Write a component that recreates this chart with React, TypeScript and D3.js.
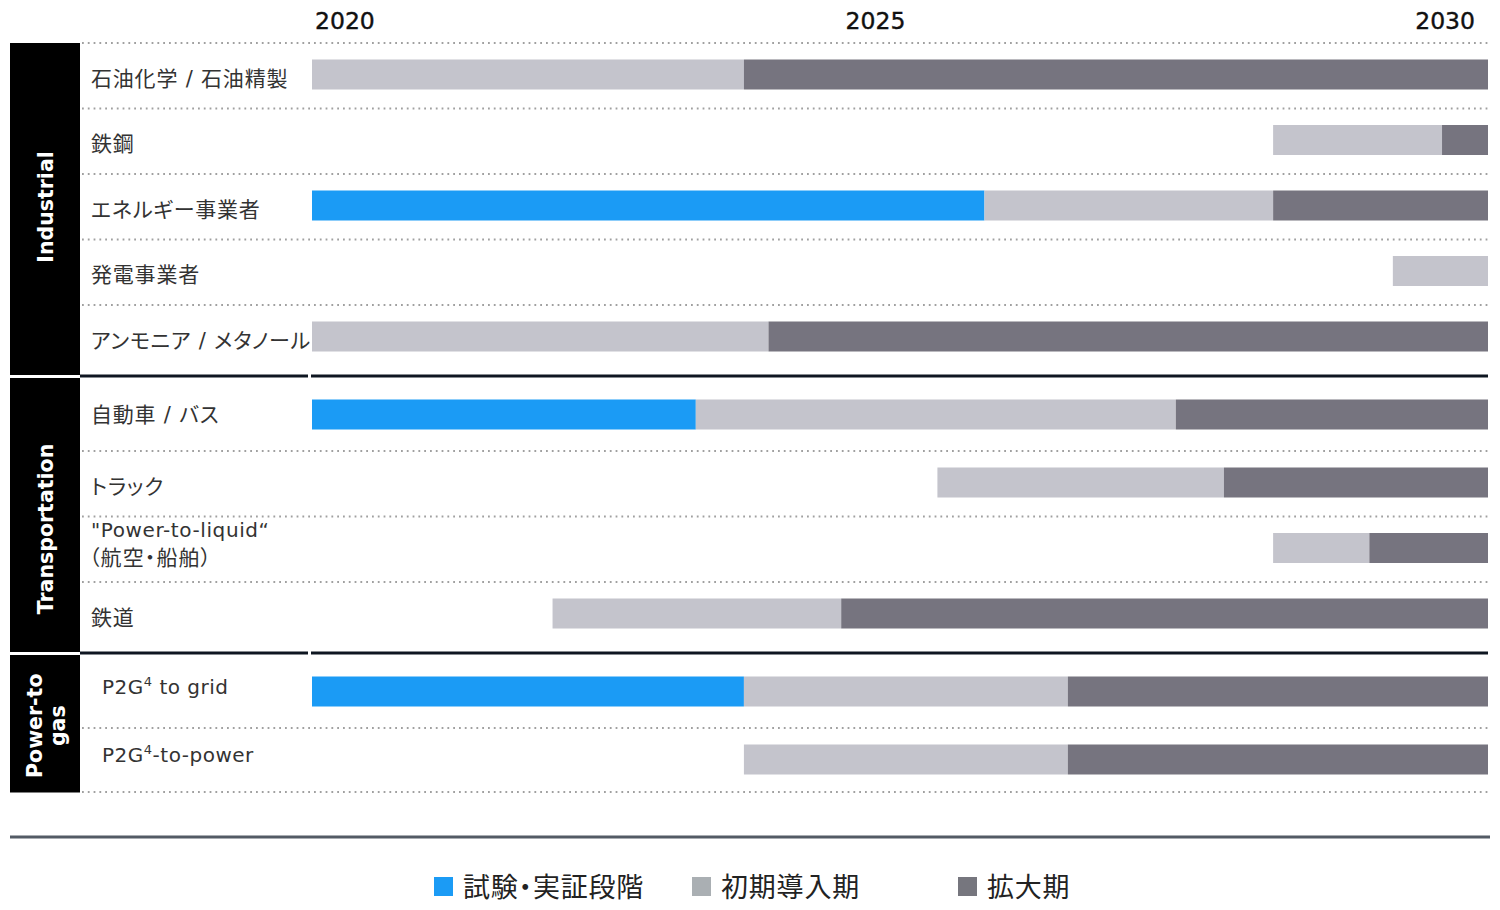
import React from "react";
import * as d3 from "d3";

// ---------- data ----------
const groups = ["Industrial", "Transportation", "Power-to|gas"];
const groupSizes = [5, 4, 2];

const categories = [
  "石油化学 / 石油精製",
  "鉄鋼",
  "エネルギー事業者",
  "発電事業者",
  "アンモニア / メタノール",
  "自動車 / バス",
  "トラック",
  "\"Power-to-liquid“|（航空・船舶）",
  "鉄道",
  "P2G^4^ to grid",
  "P2G^4^-to-power",
];

// [start, end] in years, null if phase absent
const pilotPhase: ([number, number] | null)[] = [
  null, null, [2020, 2026.29], null, null,
  [2020, 2023.59], null, null, null,
  [2020, 2024.04], null,
];
const earlyPhase: ([number, number] | null)[] = [
  [2020, 2024.04], [2028.99, 2030.57], [2026.29, 2028.99], [2030.11, 2031], [2020, 2024.27],
  [2023.59, 2028.08], [2025.85, 2028.53], [2028.99, 2029.89], [2022.25, 2024.95],
  [2024.04, 2027.07], [2024.04, 2027.07],
];
const expansionPhase: ([number, number] | null)[] = [
  [2024.04, 2031], [2030.57, 2031], [2028.99, 2031], null, [2024.27, 2031],
  [2028.08, 2031], [2028.53, 2031], [2029.89, 2031], [2024.95, 2031],
  [2027.07, 2031], [2027.07, 2031],
];

const yearTicks = [2020, 2025, 2030];
const phaseNames = ["試験・実証段階", "初期導入期", "拡大期"];

// ---------- style ----------
const COL_PILOT = "#1b9bf5";
const COL_EARLY = "#c4c4cc";
const COL_EXP = "#76747f";
const LEGEND_COLS = [COL_PILOT, "#aaafb3", "#76767e"];
const FONT_JP = "'Noto Sans CJK JP', 'Noto Sans', sans-serif";
const FONT_LAT = "'DejaVu Sans', 'Noto Sans CJK JP', sans-serif";
const GROUP_LABEL_SHIFT = [-2, 14, 2];
const PALT = { fontFeatureSettings: '"palt"' } as React.CSSProperties;

export default function App() {
  const W = 1500, H = 910;
  const x = d3.scaleLinear().domain([2020, 2031]).range([312, 1488]);

  const rowH = 65.5;
  const barH = 30;
  const groupTops: number[] = [];
  const seps: number[] = [];
  let top = 43;
  groupSizes.forEach((n, i) => {
    groupTops.push(top);
    const end = top + n * rowH;
    if (i < groupSizes.length - 1) {
      seps.push(end + 5.5);
      top = end + 15;
    }
  });

  const rows: { top: number; center: number; group: number }[] = [];
  groupSizes.forEach((n, g) => {
    for (let k = 0; k < n; k++) {
      const t = groupTops[g] + k * rowH;
      rows.push({ top: t, center: t + (k === 0 && g > 0 ? 29 : 31.5), group: g });
    }
  });
  const lastBottom = groupTops[groupTops.length - 1] + groupSizes[groupSizes.length - 1] * rowH;

  const boxes = groupSizes.map((n, g) => {
    const y0 = g === 0 ? groupTops[0] : seps[g - 1] + 2;
    const y1 = g === groupSizes.length - 1 ? lastBottom - 1 : seps[g] - 1;
    return { y0, y1 };
  });

  const dotted: number[] = [];
  rows.forEach((r, i) => {
    const firstOfGroup = i === 0 || rows[i - 1].group !== r.group;
    if (!firstOfGroup || i === 0) dotted.push(r.top);
  });
  dotted.push(lastBottom - 1.5);

  const renderLabel = (s: string, r: { center: number; top: number; group: number }, i: number) => {
    const lines = s.split("|");
    const latin = /[A-Za-z]/.test(s);
    const indent = s.startsWith("P2G") ? 102 : 91;
    const firstInGroup = i > 0 && rows[i - 1].group !== r.group;
    const renderLine = (ln: string) => {
      const parts = ln.split("^");
      return parts.map((p, j) =>
        j % 2 === 1 ? (
          <tspan key={j} fontSize={13} dy={-8}>{p}</tspan>
        ) : (
          <tspan key={j} dy={j > 0 ? 8 : 0}>{p}</tspan>
        )
      );
    };
    if (lines.length === 1) {
      return (
        <text
          key={i}
          x={indent}
          y={r.center + (latin ? 2 : firstInGroup ? 7 : 11)}
          fontSize={latin ? 20 : 21}
          letterSpacing={latin ? 0.5 : 0.8}
          fill="#333"
          fontFamily={FONT_LAT}
          style={PALT}
        >
          {renderLine(lines[0])}
        </text>
      );
    }
    return (
      <text key={i} x={indent} fill="#333" fontFamily={FONT_LAT} style={PALT}>
        <tspan x={indent} y={r.center - 11} fontSize={20} letterSpacing={0.6}>{lines[0]}</tspan>
        <tspan x={indent - 2} y={r.center + 17} fontSize={21} letterSpacing={1.1}>{lines[1]}</tspan>
      </text>
    );
  };

  const phases = [
    { data: pilotPhase, color: COL_PILOT },
    { data: earlyPhase, color: COL_EARLY },
    { data: expansionPhase, color: COL_EXP },
  ];

  return (
    <svg width={W} height={H} style={{ position: "absolute", left: 0, top: 0, background: "#fff" }}>
      {/* year labels */}
      {yearTicks.map((yr, i) => {
        const last = i === yearTicks.length - 1;
        return (
          <text
            key={yr}
            x={last ? x(2031) - 13 : x(yr) + (i === 0 ? 3 : -1)}
            y={29}
            textAnchor={last ? "end" : "start"}
            fontSize={23.5}
            fill="#111"
            stroke="#111"
            strokeWidth={0.4}
            fontFamily={FONT_LAT}
          >
            {yr}
          </text>
        );
      })}

      {/* group boxes */}
      {boxes.map((b, g) => (
        <rect key={g} x={10} y={b.y0} width={70} height={b.y1 - b.y0} fill="#000" />
      ))}
      {groups.map((gname, g) => {
        const cy = (boxes[g].y0 + boxes[g].y1) / 2 + GROUP_LABEL_SHIFT[g];
        const lines = gname.split("|");
        return (
          <text
            key={gname}
            transform={`translate(${45},${cy}) rotate(-90)`}
            textAnchor="middle"
            fill="#fff"
            fontSize={20.5}
            fontWeight={700}
            fontFamily={FONT_LAT}
          >
            {lines.map((ln, j) => (
              <tspan key={j} x={0} y={lines.length === 1 ? 8 : -3 + j * 23}>{ln}</tspan>
            ))}
          </text>
        );
      })}

      {/* dotted row lines */}
      {dotted.map((y, i) => (
        <line key={i} x1={82} x2={1488} y1={y} y2={y} stroke="#a0a0a0" strokeWidth={1.8} strokeDasharray="1.8 4" />
      ))}

      {/* group separators */}
      {seps.map((y, i) => (
        <g key={i}>
          <line x1={80} x2={308} y1={y} y2={y} stroke="#0e1621" strokeWidth={3} />
          <line x1={311} x2={1488} y1={y} y2={y} stroke="#0e1621" strokeWidth={3} />
        </g>
      ))}

      {/* bars */}
      {phases.map((ph, p) =>
        ph.data.map((d, i) =>
          d ? (
            <rect
              key={`${p}-${i}`}
              x={x(d[0])}
              y={rows[i].center - barH / 2}
              width={x(d[1]) - x(d[0])}
              height={barH}
              fill={ph.color}
            />
          ) : null
        )
      )}

      {/* row labels */}
      {categories.map((c, i) => renderLabel(c, rows[i], i))}

      {/* bottom rule */}
      <line x1={10} x2={1490} y1={837} y2={837} stroke="#535b65" strokeWidth={3} />

      {/* legend */}
      {phaseNames.map((n, i) => {
        const lx = [434, 692, 958][i];
        return (
          <g key={n}>
            <rect x={lx} y={877} width={19} height={19} fill={LEGEND_COLS[i]} />
            <text x={lx + 29} y={897} fontSize={27} letterSpacing={0.8} fill="#222" fontFamily={FONT_JP} style={PALT}>{n}</text>
          </g>
        );
      })}
    </svg>
  );
}
